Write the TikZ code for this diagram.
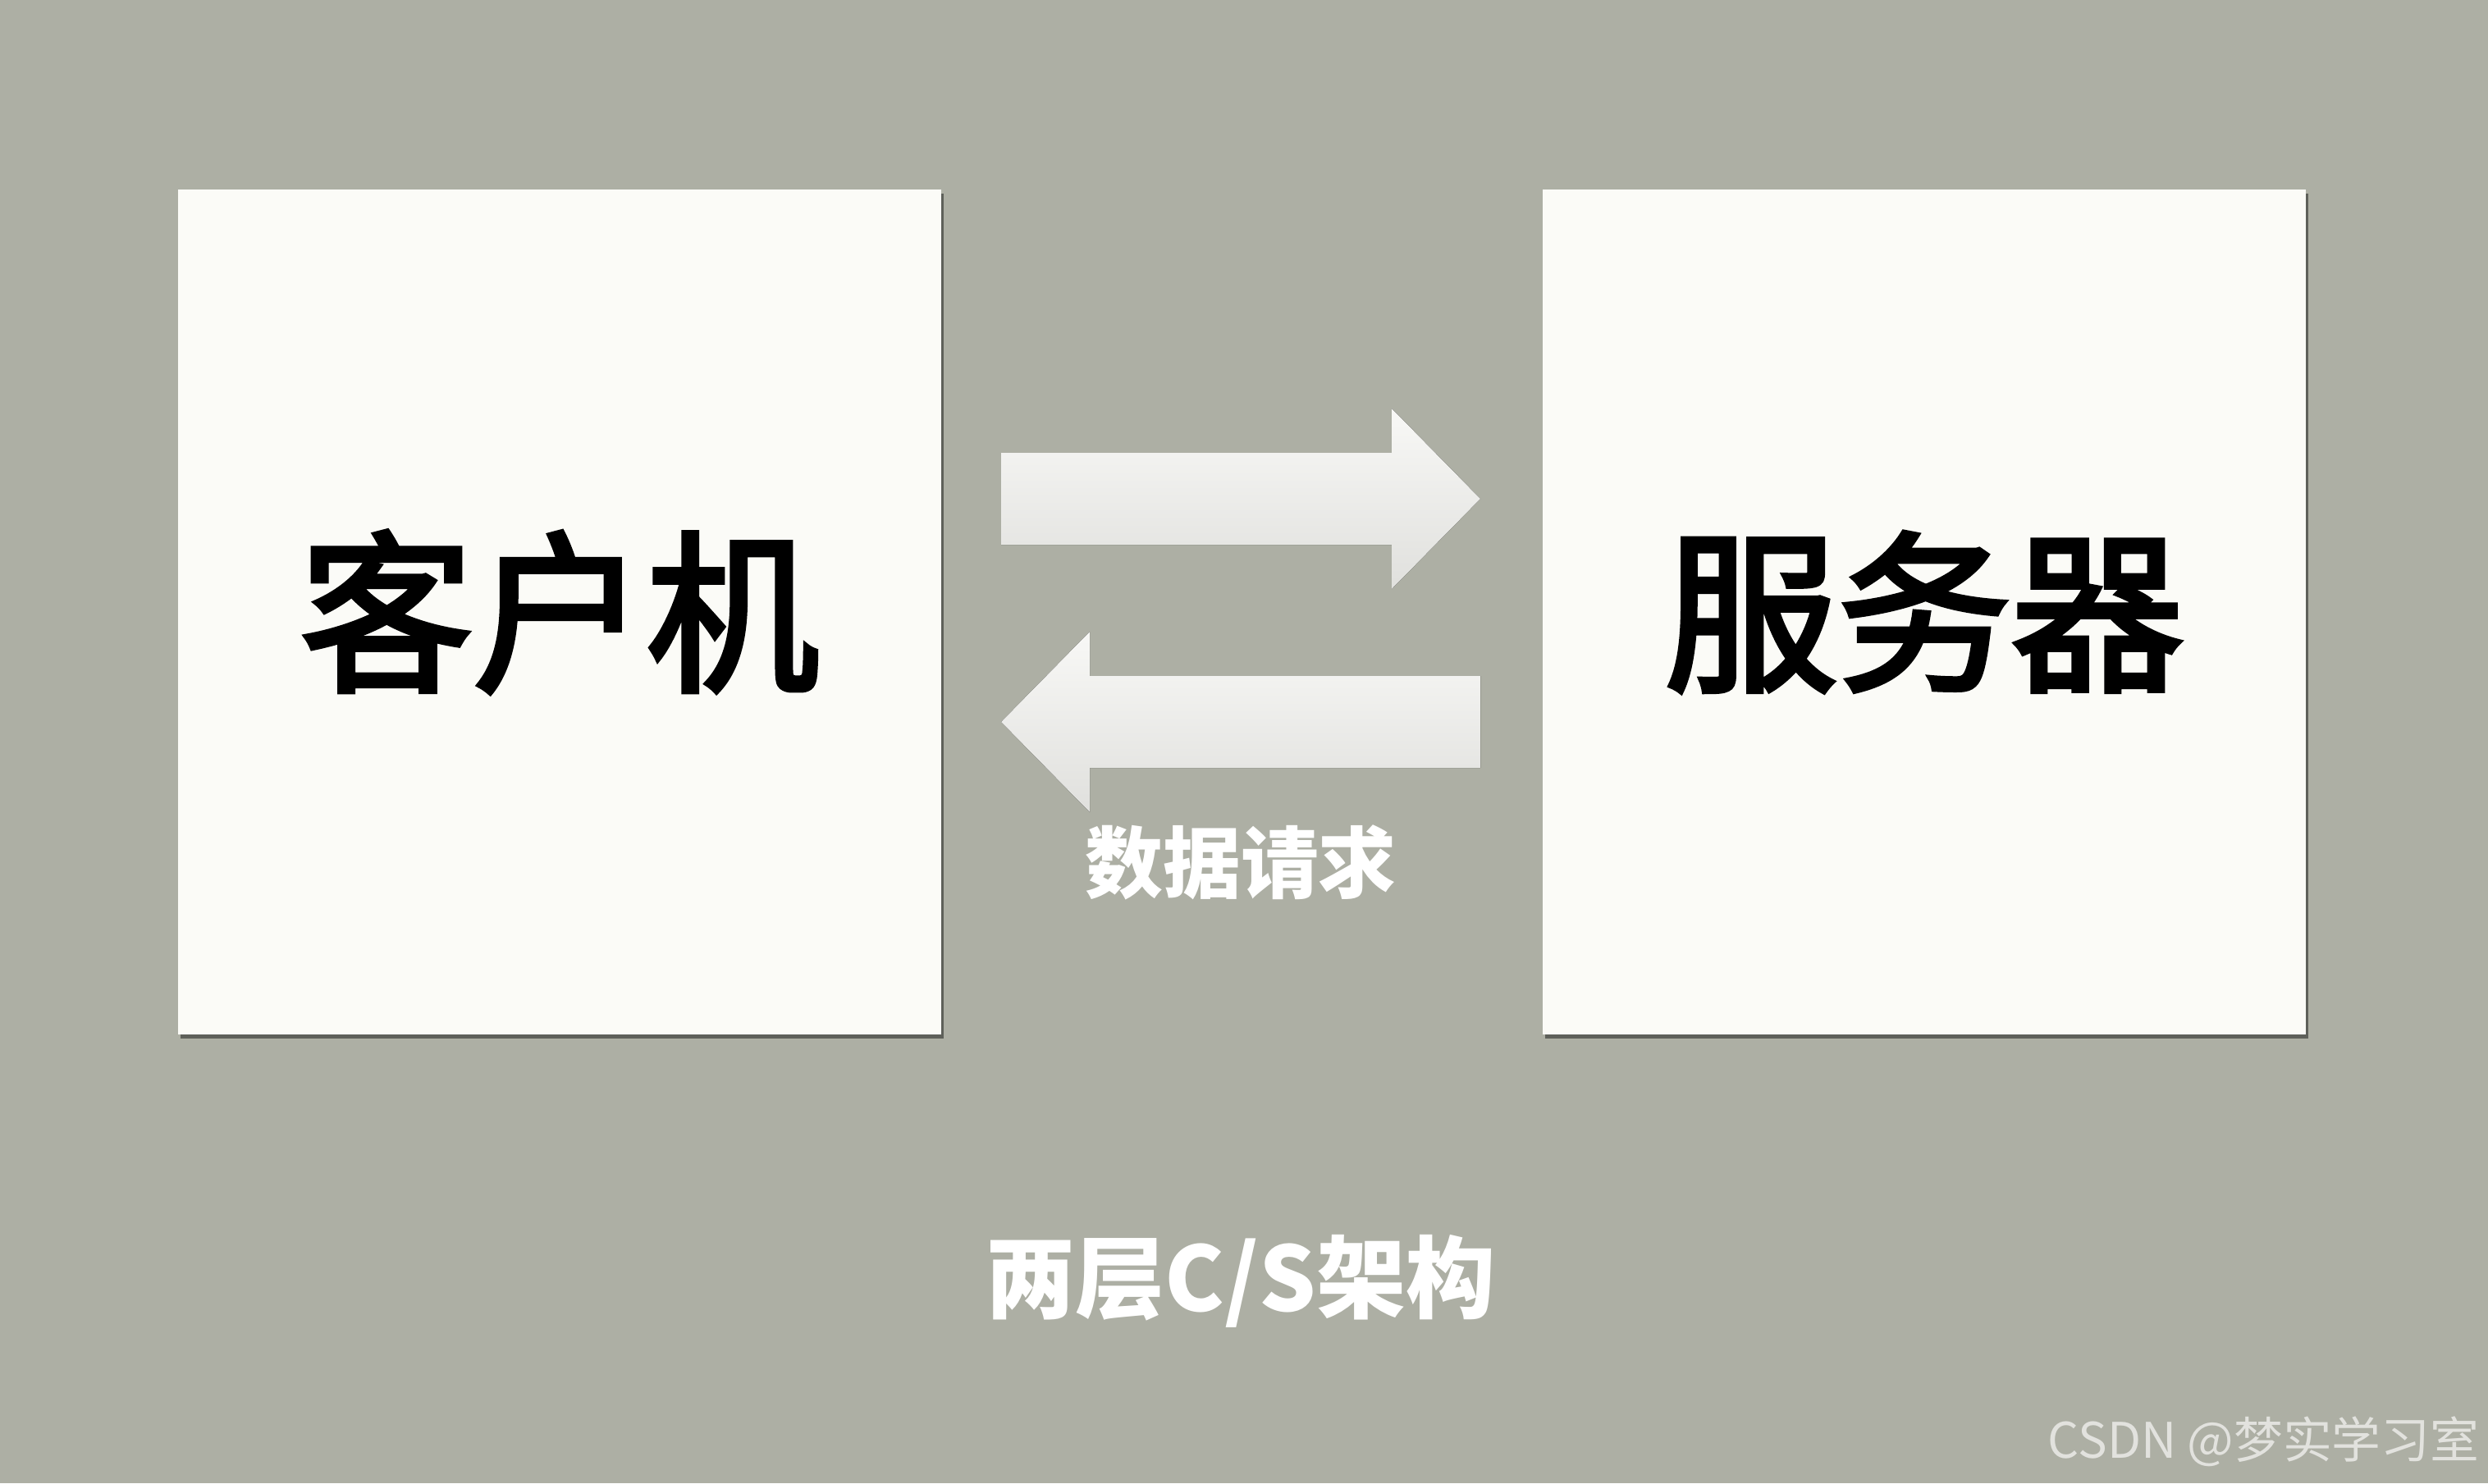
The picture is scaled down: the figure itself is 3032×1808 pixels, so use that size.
\documentclass[tikz,border=0pt]{standalone}
\usepackage{fontspec}
\setmainfont{Noto Sans CJK SC}
\newfontfamily\cjkmed{Noto Sans CJK SC}[BoldFont = {*}, BoldFeatures = {FakeBold = 3}]
\usetikzlibrary{positioning, shadows}
\definecolor{bggray}{HTML}{ADAFA4}
\definecolor{paper}{HTML}{FBFBF7}
\definecolor{arrtop}{HTML}{F8F8F6}
\definecolor{arrbot}{HTML}{E0E0DD}
\definecolor{wmark}{HTML}{E2E2DE}
\tikzstyle{machine} = [rectangle, minimum width = 9.3cm, minimum height = 10.29cm, inner sep = 0pt, outer sep = 0pt, fill = paper, text = black, font = \fontsize{60}{60}\selectfont\cjkmed\bfseries, drop shadow = {shadow xshift = 0.03cm, shadow yshift = -0.05cm, fill = black, opacity = 0.45}]
\tikzstyle{blockarrow} = [top color = arrtop, bottom color = arrbot]
\tikzstyle{caption} = [text = white]

\begin{document}
\begin{tikzpicture}[x = 0.01cm, y = -0.01cm]
  \fill [bggray] (0,0) rectangle (3032,1808);
  \useasboundingbox (0,0) rectangle (3032,1808);
  \node (client) [machine] at (682,746) {客户机};
  \node (server) [machine, right = 7.32cm of client] {服务器};
  \coordinate (req) at (1220,608);
  \coordinate (resp) at (1804,880);
  \fill [blockarrow] (req) ++(0,-56) -- ++(476,0) -- ++(0,-54) -- ++(108,110) -- ++(-108,110) -- ++(0,-54) -- ++(-476,0) -- cycle;
  \fill [blockarrow] (resp) ++(0,-56) -- ++(-476,0) -- ++(0,-54) -- ++(-108,110) -- ++(108,110) -- ++(0,-54) -- ++(476,0) -- cycle;
  \node (label) [caption, font = \fontsize{27}{27}\selectfont\bfseries] at (1512,1051) {数据请求};
  \node (title) [caption, font = \fontsize{31}{31}\selectfont\bfseries] at (1512,1562) {两层C/S架构};
  \node (mark) [anchor = east, text = wmark, font = \fontsize{17}{17}\selectfont, inner sep = 0pt] at (3022,1757) {CSDN @梦实学习室};
\end{tikzpicture}
\end{document}
